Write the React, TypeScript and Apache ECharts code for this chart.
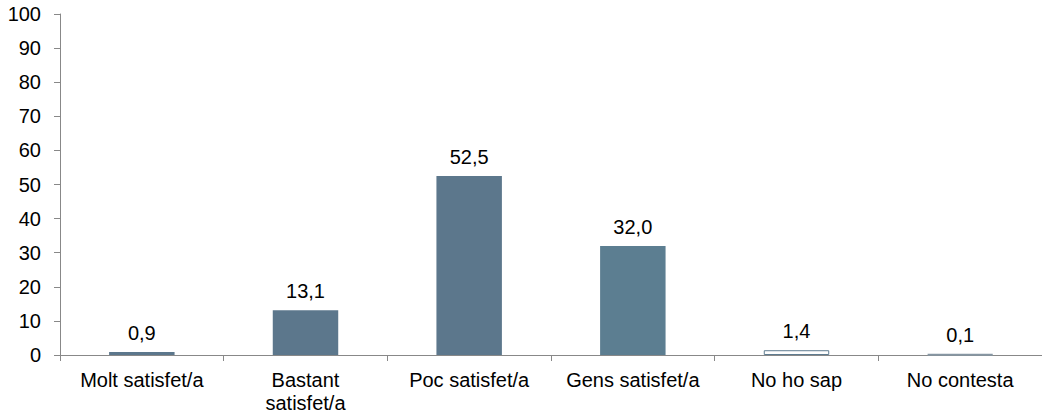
import React, { useEffect, useRef } from "react";
import * as echarts from "echarts";

const categories = ["Molt satisfet/a", "Bastant\nsatisfet/a", "Poc satisfet/a", "Gens satisfet/a", "No ho sap", "No contesta"];
const values = [0.9, 13.1, 52.5, 32.0, 1.4, 0.1];
const yTicks = { min: 0, max: 100, interval: 10 };

export default function App() {
  const ref = useRef<HTMLDivElement>(null);
  useEffect(() => {
    const chart = echarts.init(ref.current!, null, { renderer: "svg" });
    const font = "Liberation Sans";
    const itemStyles = [
      { color: "#5c778c" },
      { color: "#5c778c" },
      { color: "#5c778c" },
      { color: "#5c7e91" },
      { color: "#ffffff", borderColor: "#5f7c90", borderWidth: 1 },
      { color: "#8696a3", borderColor: "#8696a3", borderWidth: 2 },
    ];
    chart.setOption({
      animation: false,
      textStyle: { fontFamily: font, fontSize: 20, color: "#000" },
      grid: { left: 60, right: 0, top: 14, bottom: 62 },
      xAxis: {
        type: "category",
        data: categories,
        axisLine: { lineStyle: { color: "#888888", width: 1 } },
        axisTick: { show: true, length: 6, lineStyle: { color: "#888888" } },
        axisLabel: { color: "#000", fontFamily: font, fontSize: 20, margin: 13, lineHeight: 23, interval: 0 },
      },
      yAxis: {
        type: "value",
        min: yTicks.min,
        max: yTicks.max,
        interval: yTicks.interval,
        splitLine: { show: false },
        axisLine: { show: true, lineStyle: { color: "#888888", width: 1 } },
        axisTick: { show: true, length: 6, lineStyle: { color: "#888888" } },
        axisLabel: { color: "#000", fontFamily: font, fontSize: 20, margin: 19 },
      },
      series: [
        {
          type: "bar",
          barWidth: "40%",
          data: values.map((v, i) => ({ value: v, itemStyle: itemStyles[i] })),
          label: {
            show: true,
            position: "top",
            distance: 9,
            color: "#000",
            fontFamily: font,
            fontSize: 20,
            formatter: (p: any) => p.value.toFixed(1).replace(".", ","),
          },
        },
      ],
    });
    return () => chart.dispose();
  }, []);
  return <div ref={ref} style={{ position: "absolute", left: 0, top: 0, width: 1042, height: 417 }} />;
}
